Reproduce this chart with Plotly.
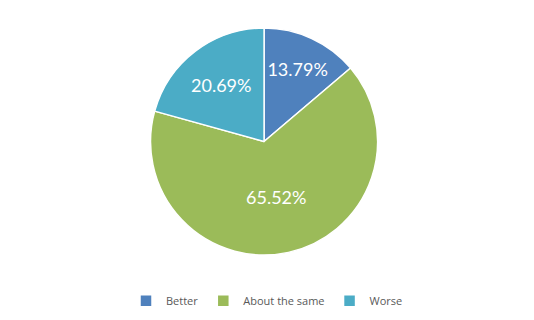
import plotly.graph_objects as go

labels = ["Better", "About the same", "Worse"]
values = [4, 19, 6]
colors = ["#4F81BD", "#9BBB59", "#4BACC6"]

fig = go.Figure(go.Pie(
    labels=labels,
    values=values,
    sort=False,
    direction="clockwise",
    rotation=0,
    marker=dict(colors=colors, line=dict(color="white", width=1.5)),
    textinfo="percent",
    texttemplate="%{percent:.2%}",
    textposition="inside",
    insidetextorientation="horizontal",
    textfont=dict(family="Lato, Open Sans, sans-serif", size=18, color="white"),
    domain=dict(x=[0.281, 0.708], y=[0.203, 0.9125]),
    hoverinfo="label+percent",
))

fig.update_layout(
    width=534, height=320,
    margin=dict(l=0, r=0, t=0, b=0),
    paper_bgcolor="white",
    plot_bgcolor="white",
    showlegend=True,
    legend=dict(
        orientation="h",
        x=0.5, xanchor="center",
        y=0.015, yanchor="bottom",
        font=dict(family="Open Sans, sans-serif", size=11, color="#595959"),
        itemwidth=30,
        tracegroupgap=0,
    ),
)

fig.write_html("out.html")
